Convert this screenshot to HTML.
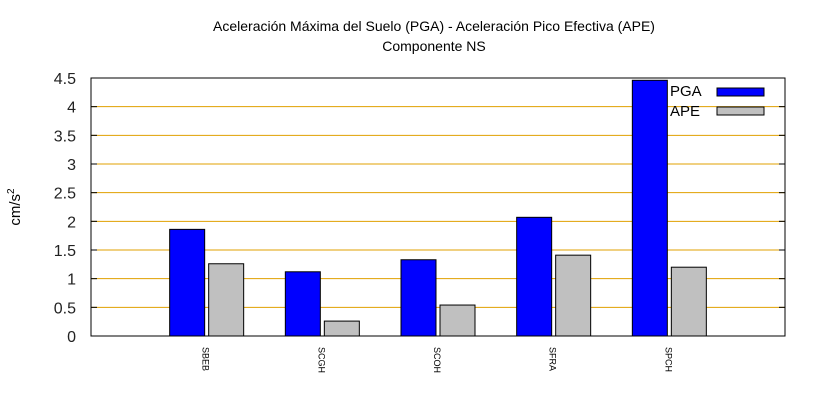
<!DOCTYPE html>
<html><head><meta charset="utf-8"><style>
body{margin:0;background:#fff}
svg{display:block;font-family:"Liberation Sans",sans-serif}
</style></head><body>
<svg id="chart" width="820" height="400">
<text x="434" y="31" font-size="14" text-anchor="middle">Aceleración Máxima del Suelo (PGA) -  Aceleración Pico Efectiva (APE)</text>
<text x="434" y="51" font-size="14" text-anchor="middle">Componente NS</text>
<text transform="translate(20,207) rotate(-90)" font-size="15" text-anchor="middle">cm/s<tspan font-size="10" dy="-6">2</tspan></text>
<g id="grid"></g>
<g id="bars"></g>
<rect x="91" y="78" width="694" height="258" fill="none" stroke="#000" stroke-width="1"/>
<g id="axes"></g>
<g>
<text x="670" y="96" font-size="15">PGA</text>
<rect x="717" y="88" width="47" height="8" fill="#0000ff" stroke="#000"/>
<text x="670" y="116" font-size="15">APE</text>
<rect x="717" y="107" width="47" height="8" fill="#c0c0c0" stroke="#000"/>
</g>
</svg>
<script>
const categories = ["SBEB","SCGH","SCOH","SFRA","SPCH"];
const pga = [1.86, 1.12, 1.33, 2.07, 4.46];
const ape = [1.26, 0.26, 0.54, 1.41, 1.2];
const yTicks = [0,0.5,1,1.5,2,2.5,3,3.5,4,4.5];
const NS="http://www.w3.org/2000/svg";
const L=91,R=785,T=78,B=336,yMax=4.5;
const y=v=>B-(v/yMax)*(B-T);
const x=i=>L+(i+1)*(R-L)/(categories.length+1);
function mk(tag,attrs,parent){const e=document.createElementNS(NS,tag);for(const k in attrs)e.setAttribute(k,attrs[k]);parent.appendChild(e);return e;}
const grid=document.getElementById('grid'),bars=document.getElementById('bars'),axes=document.getElementById('axes');
yTicks.forEach(t=>{
  if(t>0&&t<yMax){const g=mk('line',{x1:L,x2:R,y1:y(t),y2:y(t),stroke:'#e0a000','stroke-width':1},grid);
  
  }
  const tk=mk('line',{x1:L,x2:L+6,y1:y(t),y2:y(t),stroke:'#000'},axes);
  
  
  const tk2=mk('line',{x1:R-6,x2:R,y1:y(t),y2:y(t),stroke:'#000'},axes);
  
  
  const lb=mk('text',{x:76,y:y(t)+6,'font-size':16,'text-anchor':'end',fill:'#222'},axes);
  lb.textContent=String(t);
  
  
});
categories.forEach((c,i)=>{
  const cx=x(i);
  const b1=mk('rect',{x:cx-37,y:y(pga[i]),width:35,height:B-y(pga[i]),fill:'#0000ff',stroke:'#000'},bars);
  
  
  const b2=mk('rect',{x:cx+2,y:y(ape[i]),width:35,height:B-y(ape[i]),fill:'#c0c0c0',stroke:'#000'},bars);
  
  
  const lb=mk('text',{transform:`translate(${cx-4},347) rotate(90)`,'font-size':9},axes);
  lb.textContent=c;
  
  
});
</script>
</body></html>
